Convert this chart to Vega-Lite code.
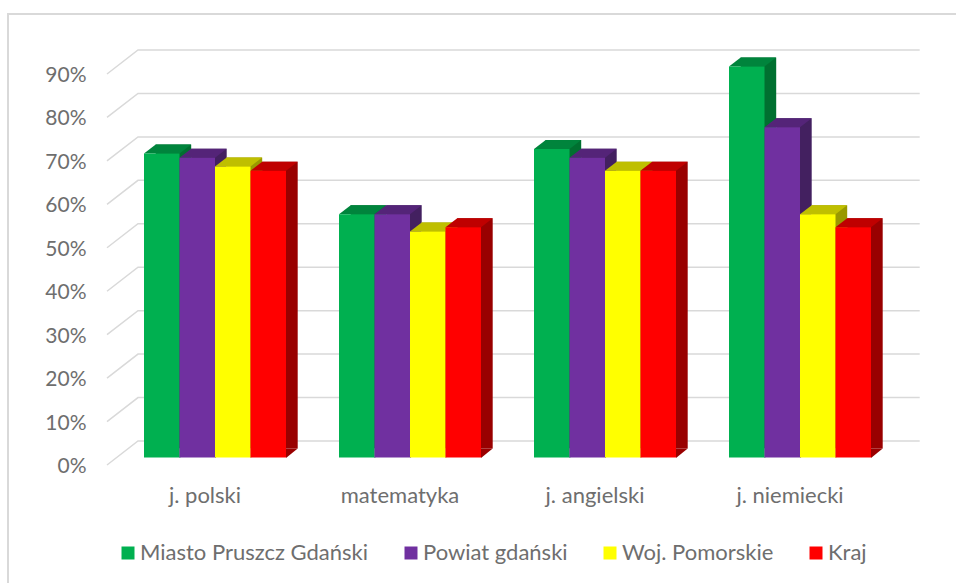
{
"$schema":"https://vega.github.io/schema/vega-lite/v6.json",
"width":956,"height":583,"padding":0,"autosize":{"type":"none"},"background":"white",
"config":{"view":{"stroke":null},"font":"Lato"},
"datasets":{
"bars":[
{"subject":"j. polski","series":"Miasto Pruszcz Gdański","value":0.70},
{"subject":"j. polski","series":"Powiat gdański","value":0.69},
{"subject":"j. polski","series":"Woj. Pomorskie","value":0.67},
{"subject":"j. polski","series":"Kraj","value":0.66},
{"subject":"matematyka","series":"Miasto Pruszcz Gdański","value":0.56},
{"subject":"matematyka","series":"Powiat gdański","value":0.56},
{"subject":"matematyka","series":"Woj. Pomorskie","value":0.52},
{"subject":"matematyka","series":"Kraj","value":0.53},
{"subject":"j. angielski","series":"Miasto Pruszcz Gdański","value":0.71},
{"subject":"j. angielski","series":"Powiat gdański","value":0.69},
{"subject":"j. angielski","series":"Woj. Pomorskie","value":0.66},
{"subject":"j. angielski","series":"Kraj","value":0.66},
{"subject":"j. niemiecki","series":"Miasto Pruszcz Gdański","value":0.90},
{"subject":"j. niemiecki","series":"Powiat gdański","value":0.76},
{"subject":"j. niemiecki","series":"Woj. Pomorskie","value":0.56},
{"subject":"j. niemiecki","series":"Kraj","value":0.53}],
"ticks":[{"v":0},{"v":0.1},{"v":0.2},{"v":0.3},{"v":0.4},{"v":0.5},{"v":0.6},{"v":0.7},{"v":0.8},{"v":0.9}]
},
"layer":[
{"data":{"values":[{"frame":1}]},
 "mark":{"type":"point","shape":"M-470,291.5L-470,-277.5L478,-277.5","size":4,"stroke":"#d9d9d9","strokeWidth":2,"opacity":1,"filled":false},
 "encoding":{}},
{"data":{"name":"ticks"},
 "mark":{"type":"point","shape":"M-371,7.5L-340,-16.5L441.7,-16.5","size":4,"stroke":"#d9d9d9","strokeWidth":1.5,"opacity":1,"filled":false},
 "encoding":{"y":{"field":"v","type":"quantitative","scale":{"domain":[0,0.9],"range":[457.5,66.5]},
   "axis":{"values":[0,0.1,0.2,0.3,0.4,0.5,0.6,0.7,0.8,0.9],"format":".0%","title":null,"domain":false,"ticks":false,"grid":false,"offset":-86,"labelPadding":0,"labelOffset":9,"labelFontSize":21,"labelColor":"#6e6e6e","labelFont":"Lato"}}}},
{"data":{"name":"bars"},
 "mark":{"type":"bar","yOffset":-9,"stroke":null},
 "encoding":{
  "x":{"field":"subject","type":"nominal","sort":["j. polski","matematyka","j. angielski","j. niemiecki"],
   "scale":{"range":[117.5,897.5],"paddingInner":0.2718,"paddingOuter":0.1359},
   "axis":{"title":null,"domain":false,"ticks":false,"labelAngle":0,"orient":"bottom","offset":-88,"labelPadding":0,"labelBaseline":"middle","labelOffset":-10,"labelFontSize":22,"labelColor":"#6e6e6e","labelFont":"Lato"}},
  "xOffset":{"field":"series","type":"nominal","sort":["Miasto Pruszcz Gdański","Powiat gdański","Woj. Pomorskie","Kraj"],"scale":{"range":[11.7,153.7]}},
  "y":{"field":"value","type":"quantitative"},
  "color":{"field":"series","type":"nominal","scale":{"domain":["Miasto Pruszcz Gdański","Powiat gdański","Woj. Pomorskie","Kraj"],"range":["#007030","#432060","#999900","#990000"]},"legend":null}}},
{"data":{"name":"bars"},
 "mark":{"type":"point","shape":"M17.75,0.5L17.75,-9L29.45,-9Z","size":4,"filled":true,"opacity":1,"strokeWidth":0},
 "encoding":{
  "x":{"field":"subject","type":"nominal","sort":["j. polski","matematyka","j. angielski","j. niemiecki"]},
  "xOffset":{"field":"series","type":"nominal","sort":["Miasto Pruszcz Gdański","Powiat gdański","Woj. Pomorskie","Kraj"]},
  "y":{"datum":0,"type":"quantitative"},
  "color":{"field":"series","type":"nominal","scale":{"domain":["Miasto Pruszcz Gdański","Powiat gdański","Woj. Pomorskie","Kraj"],"range":["#007030","#432060","#999900","#990000"]},"legend":null}}},
{"data":{"name":"bars"},
 "mark":{"type":"point","shape":"M-17.75,0L17.75,0L29.45,-9L-6.05,-9Z","size":4,"filled":true,"opacity":1,"strokeWidth":0},
 "encoding":{
  "x":{"field":"subject","type":"nominal","sort":["j. polski","matematyka","j. angielski","j. niemiecki"]},
  "xOffset":{"field":"series","type":"nominal","sort":["Miasto Pruszcz Gdański","Powiat gdański","Woj. Pomorskie","Kraj"]},
  "y":{"field":"value","type":"quantitative"},
  "color":{"field":"series","type":"nominal","scale":{"domain":["Miasto Pruszcz Gdański","Powiat gdański","Woj. Pomorskie","Kraj"],"range":["#00843c","#542478","#bfbf00","#bf0000"]},"legend":null}}},
{"data":{"name":"bars"},
 "mark":{"type":"bar","stroke":null},
 "encoding":{
  "x":{"field":"subject","type":"nominal","sort":["j. polski","matematyka","j. angielski","j. niemiecki"]},
  "xOffset":{"field":"series","type":"nominal","sort":["Miasto Pruszcz Gdański","Powiat gdański","Woj. Pomorskie","Kraj"]},
  "y":{"field":"value","type":"quantitative"},
  "color":{"field":"series","type":"nominal","scale":{"domain":["Miasto Pruszcz Gdański","Powiat gdański","Woj. Pomorskie","Kraj"],"range":["#00b050","#7030a0","#ffff00","#ff0000"]},
   "legend":{"title":null,"orient":"none","legendX":117,"legendY":542,"direction":"horizontal","columns":4,"padding":0,"symbolType":"square","symbolSize":169,"symbolStrokeWidth":0,"labelFontSize":22,"labelColor":"#6e6e6e","labelFont":"Lato","labelOffset":1,"columnPadding":31,"labelLimit":400}}}}
],
"resolve":{"scale":{"color":"independent","xOffset":"independent"}}
}
